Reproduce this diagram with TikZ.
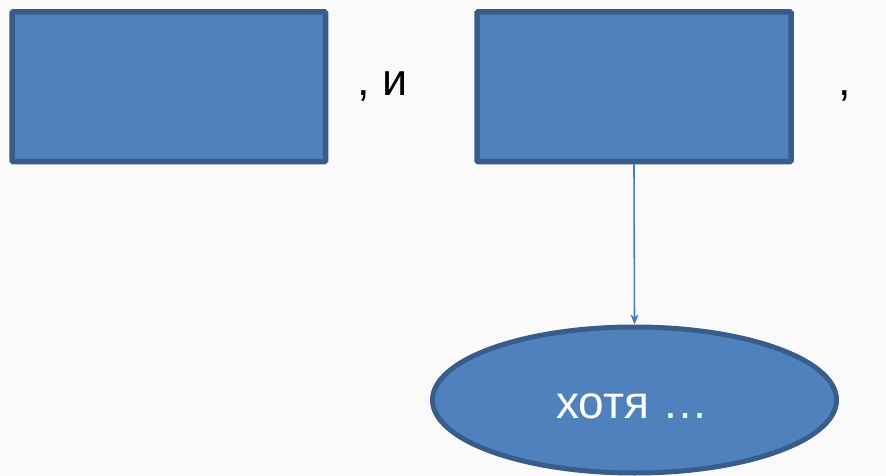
\documentclass[tikz,border=0pt]{standalone}
\usepackage{fontspec}
\setmainfont{Liberation Sans}
\usetikzlibrary{shapes.geometric,arrows.meta}
\definecolor{bgc}{RGB}{250,250,251}
\definecolor{boxfill}{RGB}{79,129,189}
\definecolor{boxline}{RGB}{56,93,138}
\definecolor{arrowc}{RGB}{74,126,187}
\tikzset{
  blockbox/.style={draw=boxline, fill=boxfill, line width=5.5pt, rectangle, inner sep=0pt, rounded corners=1pt},
  ovalbox/.style={draw=boxline, fill=boxfill, line width=5pt, ellipse, inner sep=0pt},
  bigtxt/.style={inner sep=0pt, font=\fontsize{45}{50}\selectfont},
  linkarrow/.style={draw=arrowc, line width=1.6pt, -{Stealth[length=10pt,width=8pt,inset=3pt]}}
}
\begin{document}
\begin{tikzpicture}[x=1pt,y=-1pt]
\useasboundingbox (0,0) rectangle (886,476);
\fill[bgc] (0,0) rectangle (886,476);
\node[blockbox, minimum width=313.5pt, minimum height=149.5pt] (left) at (168.75,86.75) {};
\node[blockbox, minimum width=314pt, minimum height=149.5pt] (right) at (634,86.75) {};
\node[ovalbox, minimum width=404pt, minimum height=146pt] (oval) at (634.5,400) {};
\node[bigtxt, anchor=base west] (andtext) at (357,96) {, и};
\node[bigtxt, anchor=base west] (comma) at (838,96) {,};
\node[bigtxt, anchor=base west, text=white, font=\fontsize{46}{50}\selectfont] (ovaltext) at (556,418) {хотя …};
\draw[linkarrow] (right.south) -- (oval.north);
\end{tikzpicture}
\end{document}
